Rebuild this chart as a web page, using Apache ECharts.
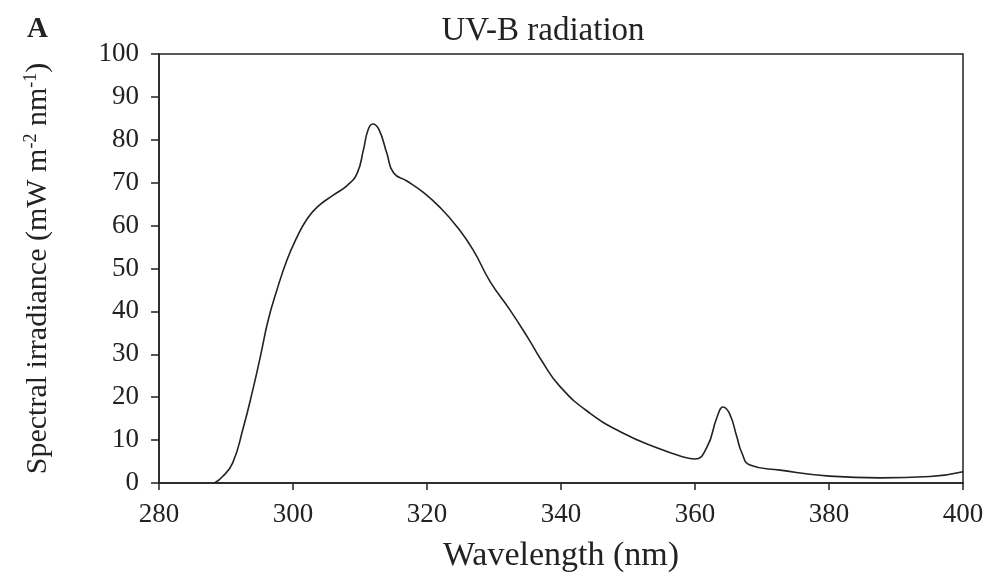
<!DOCTYPE html>
<html>
<head>
<meta charset="utf-8">
<title>UV-B radiation</title>
<script src="https://cdn.jsdelivr.net/npm/echarts@6/dist/echarts.min.js"></script>
<style>
  html, body { margin: 0; padding: 0; background: #fff; }
  #chart { width: 991px; height: 573px; }
</style>
</head>
<body>
<div id="chart"></div>
<script>
// wavelength (nm) and spectral irradiance (mW m-2 nm-1)
const wavelength = [
  288.3, 289.5, 291.0, 292.5, 294.0, 295.2, 296.3, 297.6, 299.1, 300.5,
  302.0, 303.6, 306.0, 308.2, 309.6, 310.5, 311.2, 311.9, 312.8, 314.0,
  315.0, 317.0, 319.4, 321.9, 324.5, 326.9, 329.4, 332.4, 335.0, 337.0,
  339.9, 344.3, 349.3, 354.3, 358.0, 360.0, 361.8, 363.3, 364.2, 365.2,
  366.2, 367.0, 368.2, 372.7, 380.1, 387.6, 395.1, 400.0
];
const irradiance = [
  0, 1.5, 4.7, 12.4, 21.7, 30.0, 38.0, 45, 52, 57.0,
  61.3, 64.3, 67.1, 69.5, 72.3, 77.6, 82.3, 83.7, 82.5, 76.9,
  72.3, 70.4, 67.8, 64.3, 59.7, 54.3, 47.0, 40.3, 34.0, 28.8,
  22.4, 16.3, 11.6, 8.2, 6.2, 5.6, 8.4, 15.4, 17.7, 16.0,
  11, 7.0, 4.2, 3.0, 1.6, 1.2, 1.5, 2.6
];

const serif = '"Liberation Serif", "DejaVu Serif", serif';
const chart = echarts.init(document.getElementById('chart'));

chart.setOption({
  animation: false,
  textStyle: { fontFamily: serif, color: '#222' },
  title: [
    {
      text: 'UV-B radiation',
      left: 538,
      top: 10,
      textAlign: 'center',
      textStyle: { fontFamily: serif, fontSize: 33, fontWeight: 'normal', color: '#222' }
    },
    {
      text: 'A',
      left: 22,
      top: 10,
      textStyle: { fontFamily: serif, fontSize: 29, fontWeight: 'bold', color: '#222' }
    }
  ],
  grid: {
    left: 159,
    right: 28,
    top: 54,
    bottom: 90,
    outerBoundsMode: 'none',
    show: true,
    borderColor: '#222',
    borderWidth: 1.5
  },
  xAxis: {
    type: 'value',
    min: 280,
    max: 400,
    interval: 20,
    name: 'Wavelength (nm)',
    nameLocation: 'middle',
    nameGap: 56,
    nameTextStyle: { fontFamily: serif, fontSize: 34, color: '#222' },
    axisLine: { lineStyle: { color: '#222', width: 1.5 } },
    axisTick: { inside: false, length: 7, lineStyle: { color: '#222', width: 1.5 } },
    axisLabel: { margin: 18, fontSize: 27, color: '#222', fontFamily: serif },
    splitLine: { show: false }
  },
  yAxis: {
    type: 'value',
    min: 0,
    max: 100,
    interval: 10,
    name: '{a|Spectral irradiance (mW m}{s|-2}{a| nm}{s|-1}{a|)}',
    nameLocation: 'middle',
    nameGap: 104,
    nameRotate: 90,
    nameTextStyle: {
      rich: {
        a: { fontFamily: serif, fontSize: 30, color: '#222' },
        s: { fontFamily: serif, fontSize: 18, color: '#222', verticalAlign: 'top', padding: [0, 0, 15, 0] }
      }
    },
    axisLine: { lineStyle: { color: '#222', width: 1.5 } },
    axisTick: { inside: false, length: 8, lineStyle: { color: '#222', width: 1.5 } },
    axisLabel: { margin: 20, fontSize: 27, color: '#222', fontFamily: serif },
    splitLine: { show: false }
  },
  series: [
    {
      type: 'line',
      data: wavelength.map((w, i) => [w, irradiance[i]]),
      smooth: 0.5,
      showSymbol: false,
      lineStyle: { color: '#222', width: 1.6 }
    }
  ]
});
</script>
</body>
</html>
